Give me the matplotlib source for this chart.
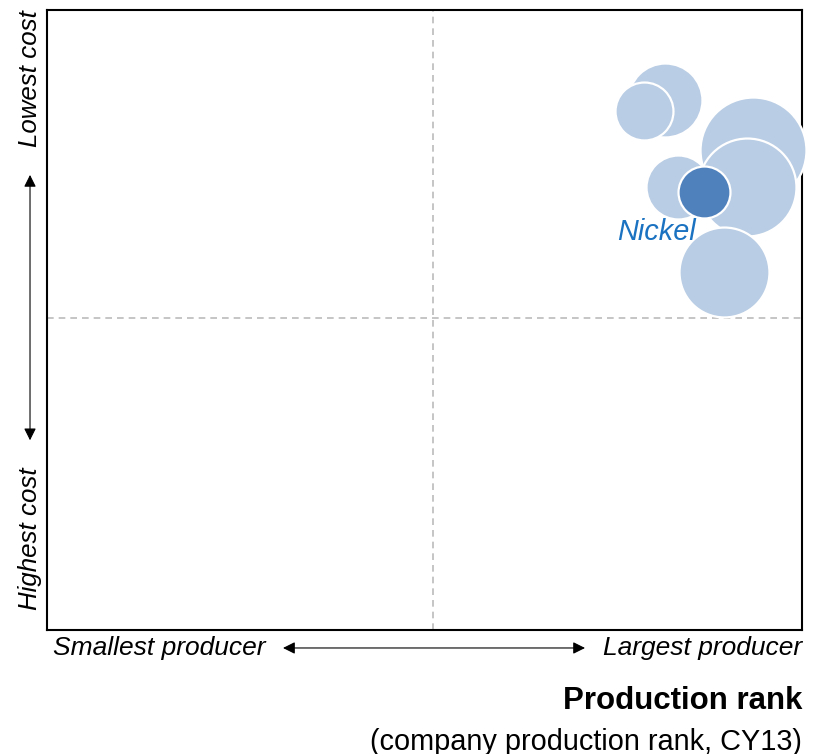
import numpy as np
import matplotlib.pyplot as plt

plt.rcParams['font.family'] = ['Liberation Sans', 'DejaVu Sans']

# bubble data: production rank (x), cost position (y), bubble size (area units)
commodities = ['A', 'B', 'C', 'E', 'D', 'Nickel', 'G']
rank_x = [81.9, 79.1, 93.5, 83.6, 92.7, 87.0, 89.7]
cost_y = [85.5, 83.7, 77.4, 71.5, 71.5, 70.6, 57.7]
size_val = [1369, 841, 2809, 1024, 2401, 676, 2025]
highlight = 'Nickel'

# quadrant split
mid_x = 51.1
mid_y = 50.3

light = '#b9cde4'
dark = '#4f81bd'

fig = plt.figure(figsize=(8.17, 7.54), dpi=100)
ax = fig.add_axes([47 / 817, 124 / 754, 755 / 817, 620 / 754])
ax.set_xlim(0, 100)
ax.set_ylim(0, 100)

# quadrant lines
ax.axvline(mid_x, color='#bbbbbb', linestyle=(0, (4, 3)), lw=1.2, zorder=1)
ax.axhline(mid_y, color='#bbbbbb', linestyle=(0, (4, 3)), lw=1.2, zorder=1)

# bubbles (radius px -> points: s = (1.44 r)^2)
for i, name in enumerate(commodities):
    c = dark if name == highlight else light
    ax.scatter(rank_x[i], cost_y[i], s=size_val[i] * 2.07, color=c,
               edgecolor='white', linewidth=1.6, zorder=3 + i, clip_on=False)

ax.text(75.5, 64.2, 'Nickel', color='#1a72c1', fontsize=20.8, style='italic',
        ha='left', va='center', zorder=20)

ax.set_xticks([])
ax.set_yticks([])
for sp in ax.spines.values():
    sp.set_linewidth(1.5)
    sp.set_color('black')

# axis direction labels
ax.text(0.008, -0.029, 'Smallest producer', transform=ax.transAxes, fontsize=19,
        style='italic', ha='left', va='center')
ax.text(1.0, -0.029, 'Largest producer', transform=ax.transAxes, fontsize=19,
        style='italic', ha='right', va='center')
ax.annotate('', xy=(0.7126, -0.029), xytext=(0.3126, -0.029),
            xycoords='axes fraction', textcoords='axes fraction',
            arrowprops=dict(arrowstyle='<|-|>', color='black', lw=0.8,
                            mutation_scale=18, shrinkA=0, shrinkB=0))

ax.text(-0.0225, 1.0, 'Lowest cost', transform=ax.transAxes, fontsize=18.6,
        style='italic', rotation=90, ha='center', va='top')
ax.text(-0.0225, 0.032, 'Highest cost', transform=ax.transAxes, fontsize=18.6,
        style='italic', rotation=90, ha='center', va='bottom')
ax.annotate('', xy=(-0.0225, 0.734), xytext=(-0.0225, 0.306),
            xycoords='axes fraction', textcoords='axes fraction',
            arrowprops=dict(arrowstyle='<|-|>', color='black', lw=0.8,
                            mutation_scale=18, shrinkA=0, shrinkB=0))

ax.text(1.0, -0.115, 'Production rank', transform=ax.transAxes, fontsize=22.5,
        fontweight='bold', ha='right', va='center')
ax.text(1.0, -0.18, '(company production rank, CY13)', transform=ax.transAxes,
        fontsize=20.8, ha='right', va='center')

fig.savefig('out.png', dpi=100)
